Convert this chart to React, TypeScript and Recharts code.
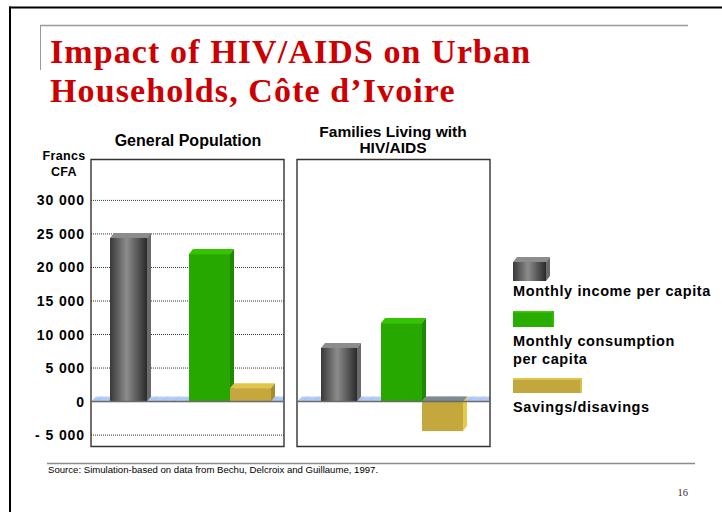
import React from "react";
import { BarChart, Bar, XAxis, YAxis, CartesianGrid, ReferenceArea, ReferenceLine } from "recharts";

// ---------- data ----------
const panelTitleLines = [["General Population"], ["Families Living with", "HIV/AIDS"]];
const panelNames = ["General Population", "Families Living with HIV/AIDS"];
const seriesNames = ["Monthly income per capita", "Monthly consumption per capita", "Savings/disavings"];
const legendLines = [["Monthly income per capita"], ["Monthly consumption", "per capita"], ["Savings/disavings"]];
const incomeValues = [24400, 8000];
const consumptionValues = [22000, 11700];
const savingsValues = [2000, -4400];
const yTicks = [-5000, 0, 5000, 10000, 15000, 20000, 25000, 30000];
const yDomain: [number, number] = [-6700, 36100];
const yAxisLabel = ["Francs", "CFA"];
const titleLines = ["Impact of HIV/AIDS on Urban", "Households, Côte d’Ivoire"];
const sourceNote = "Source: Simulation-based on data from Bechu, Delcroix and Guillaume, 1997.";
const pageNumber = "16";

// ---------- styles ----------
const SANS = "'Liberation Sans', Arial, Helvetica, sans-serif";
const SERIF = "'Liberation Serif', 'Times New Roman', serif";

type Face = { front: string; top: string; side: string; negTop: string; negSide: string; gradient?: boolean };
const faces: Face[] = [
  { front: "#6e6e6e", top: "#8c8c8c", side: "#6a6a6a", negTop: "#8c9494", negSide: "#6a6a6a", gradient: true },
  { front: "#27a800", top: "#34c400", side: "#1f8a00", negTop: "#7f9a80", negSide: "#1f8a00" },
  { front: "#c4a83e", top: "#e2c44a", side: "#a48c30", negTop: "#7e8a8c", negSide: "#e6c84c" },
];

const fmt = (v: number) => {
  const s = Math.abs(v).toString().replace(/\B(?=(\d{3})+(?!\d))/g, " ");
  return v < 0 ? "- " + s : s;
};

const DX = 4;
const DY = 5;

const make3D = (face: Face, key: string, gid: string) => (props: any) => {
  const { x, y, width, height, payload } = props;
  if (x == null || y == null || width == null || height == null) return <g />;
  const t = Math.min(y, y + height);
  const h = Math.abs(height);
  const b = t + h;
  const w = width;
  const neg = payload && payload[key] < 0;
  const frontFill = face.gradient ? `url(#${gid})` : face.front;
  return (
    <g>
      {face.gradient && (
        <defs>
          <linearGradient id={gid} x1="0" y1="0" x2="1" y2="0">
            <stop offset="0%" stopColor="#383838" />
            <stop offset="45%" stopColor="#8c8c8c" />
            <stop offset="100%" stopColor="#2a2a2a" />
          </linearGradient>
        </defs>
      )}
      {neg ? (
        <>
          <polygon points={`${x + w},${t} ${x + w + DX},${t - DY} ${x + w + DX},${b - DY} ${x + w},${b}`} fill={face.negSide} />
          <rect x={x} y={t} width={w} height={h} fill={frontFill} />
          <polygon points={`${x},${t} ${x + DX},${t - DY} ${x + w + DX},${t - DY} ${x + w},${t}`} fill={face.negTop} />
        </>
      ) : (
        <>
          <polygon points={`${x},${t} ${x + DX},${t - DY} ${x + w + DX},${t - DY} ${x + w},${t}`} fill={face.top} />
          <polygon points={`${x + w},${t} ${x + w + DX},${t - DY} ${x + w + DX},${b - DY} ${x + w},${b}`} fill={face.side} />
          <rect x={x} y={t} width={w} height={h} fill={frontFill} />
        </>
      )}
    </g>
  );
};

const Floor = (props: any) => {
  const { x, y, width, height } = props;
  if (x == null) return <g />;
  const yb = y + height;
  const yt = y;
  const d = height;
  const lines = [];
  for (let i = 6; i < width; i += 11) {
    lines.push(<line key={i} x1={x + i} y1={yb} x2={Math.min(x + i + d, x + width)} y2={yt} stroke="#94b4ec" strokeWidth={0.7} />);
  }
  return (
    <g>
      <polygon points={`${x},${yb} ${x + d},${yt} ${x + width},${yt} ${x + width},${yb}`} fill="#b7cff7" />
      {lines}
      <line x1={x + d / 2} y1={(yt + yb) / 2} x2={x + width} y2={(yt + yb) / 2} stroke="#a3bff2" strokeWidth={0.5} />
    </g>
  );
};

const YTick = (p: any) => (
  <text x={p.x} y={p.y} dy={5} textAnchor="end" fontFamily={SANS} fontWeight="bold" fontSize={14} letterSpacing={0.9} fill="#000">
    {fmt(p.payload.value)}
  </text>
);

type PanelProps = {
  idx: number;
  left: number;
  width: number;
  marginLeft: number;
  marginRight: number;
  showAxis: boolean;
  incomeSize: number;
  gPad: { left: number; right: number };
  cgPad: { left: number; right: number };
};

function Panel({ idx, left, width, marginLeft, marginRight, showAxis, incomeSize, gPad, cgPad }: PanelProps) {
  const data = [
    {
      name: panelNames[idx],
      income: incomeValues[idx],
      consumption: consumptionValues[idx],
      savings: savingsValues[idx],
    },
  ];
  return (
    <div style={{ position: "absolute", left, top: 0 }}>
      <BarChart
        width={width}
        height={512}
        data={data}
        margin={{ top: 159.5, right: marginRight, bottom: 65.5, left: marginLeft }}
        barGap={0}
      >
        <XAxis dataKey="name" hide />
        <XAxis xAxisId="g" dataKey="name" hide padding={gPad} />
        <XAxis xAxisId="cg" dataKey="name" hide padding={cgPad} />
        <YAxis
          type="number"
          domain={yDomain}
          ticks={yTicks}
          interval={0}
          allowDataOverflow
          width={showAxis ? 91 : 0}
          axisLine={false}
          tickLine={false}
          tickSize={0}
          tickMargin={6}
          tick={showAxis ? <YTick /> : false}
        />
        <CartesianGrid vertical={false} strokeDasharray="1 1" stroke="#333" />
        <ReferenceArea y1={0} y2={750} shape={<Floor />} ifOverflow="visible" fill="none" />
        <ReferenceLine y={0} stroke="#6a6a6a" strokeWidth={1.6} />
        <Bar xAxisId="g" dataKey="income" name={seriesNames[0]} barSize={incomeSize} fill={faces[0].front} shape={make3D(faces[0], "income", `gg${idx}`)} isAnimationActive={false} />
        <Bar xAxisId="cg" dataKey="consumption" name={seriesNames[1]} barSize={41} fill={faces[1].front} shape={make3D(faces[1], "consumption", `gc${idx}`)} isAnimationActive={false} />
        <Bar xAxisId="cg" dataKey="savings" name={seriesNames[2]} barSize={41} fill={faces[2].front} shape={make3D(faces[2], "savings", `gs${idx}`)} isAnimationActive={false} />
        <ReferenceArea y1={yDomain[0]} y2={yDomain[1]} fill="none" fillOpacity={0} stroke="#333" strokeWidth={1.4} ifOverflow="visible" />
      </BarChart>
    </div>
  );
}

function LegendIcons() {
  return (
    <g>
      <defs>
        <linearGradient id="legGray" x1="0" y1="0" x2="1" y2="0">
          <stop offset="0%" stopColor="#383838" />
          <stop offset="45%" stopColor="#8c8c8c" />
          <stop offset="100%" stopColor="#2a2a2a" />
        </linearGradient>
      </defs>
      <polygon points="513,262 517,257 550,257 546,262" fill={faces[0].top} />
      <polygon points="546,262 550,257 550,276 546,281" fill={faces[0].side} />
      <rect x={513} y={262} width={33} height={19} fill="url(#legGray)" />

      <rect x={513} y={311} width={41} height={16} fill="#29ad00" />
      <rect x={513} y={311} width={41} height={1.5} fill="#3ccc10" />
      <rect x={552.5} y={311} width={1.5} height={16} fill="#30c000" />

      <rect x={513} y={378} width={69} height={15} fill="#c2a63e" />
      <rect x={513} y={378} width={69} height={2} fill="#e2c64c" />
      <rect x={580} y={378} width={2} height={15} fill="#dcc04a" />
    </g>
  );
}

export default function App() {
  const legendBaselines = [[296], [346, 364], [412]];
  return (
    <div style={{ position: "fixed", left: 0, top: 0, width: 722, height: 512, background: "#fff", overflow: "hidden" }}>
      <svg width={722} height={512} style={{ position: "absolute", left: 0, top: 0 }}>
        {/* slide frame */}
        <line x1={9} y1={7.5} x2={722} y2={7.5} stroke="#000" strokeWidth={2} />
        <line x1={10} y1={6.5} x2={10} y2={512} stroke="#000" strokeWidth={2} />
        <line x1={40} y1={25.5} x2={688} y2={25.5} stroke="#9a9a9a" strokeWidth={1.6} />
        <line x1={40.5} y1={25} x2={40.5} y2={70} stroke="#9a9a9a" strokeWidth={1} />
        <line x1={47} y1={463.5} x2={695} y2={463.5} stroke="#8c8c8c" strokeWidth={1.6} />

        {/* title */}
        {titleLines.map((t, i) => (
          <text key={t} x={50} y={63 + i * 39} fontFamily={SERIF} fontWeight="bold" fontSize={34} letterSpacing={1.1} fill="#cc0000">
            {t}
          </text>
        ))}

        {/* panel titles */}
        <text x={188} y={145.5} textAnchor="middle" fontFamily={SANS} fontWeight="bold" fontSize={16} fill="#000">
          {panelTitleLines[0][0]}
        </text>
        {panelTitleLines[1].map((t, i) => (
          <text key={t} x={393} y={137 + i * 15.5} textAnchor="middle" fontFamily={SANS} fontWeight="bold" fontSize={15.5} fill="#000">
            {t}
          </text>
        ))}

        {/* y axis unit */}
        {yAxisLabel.map((t, i) => (
          <text key={t} x={64} y={160 + i * 16} textAnchor="middle" fontFamily={SANS} fontWeight="bold" fontSize={12.5} letterSpacing={0.3} fill="#000">
            {t}
          </text>
        ))}

        {/* legend */}
        <LegendIcons />
        {legendLines.map((lines, i) =>
          lines.map((t, j) => (
            <text key={t} x={513} y={legendBaselines[i][j]} fontFamily={SANS} fontWeight="bold" fontSize={14.5} letterSpacing={0.6} fill="#000">
              {t}
            </text>
          ))
        )}

        {/* source & page */}
        <text x={48} y={472.5} fontFamily={SANS} fontSize={9.6} fill="#000">
          {sourceNote}
        </text>
        <text x={688} y={496} textAnchor="end" fontFamily={SERIF} fontSize={10.5} fill="#333">
          {pageNumber}
        </text>
      </svg>

      <Panel
        idx={0}
        left={0}
        width={290}
        marginLeft={0}
        marginRight={6}
        showAxis={true}
        incomeSize={37}
        gPad={{ left: 0, right: 118 }}
        cgPad={{ left: 85, right: 0 }}
      />
      <Panel
        idx={1}
        left={290}
        width={210}
        marginLeft={7}
        marginRight={10}
        showAxis={false}
        incomeSize={36}
        gPad={{ left: 0, right: 109 }}
        cgPad={{ left: 56, right: 0 }}
      />
    </div>
  );
}
